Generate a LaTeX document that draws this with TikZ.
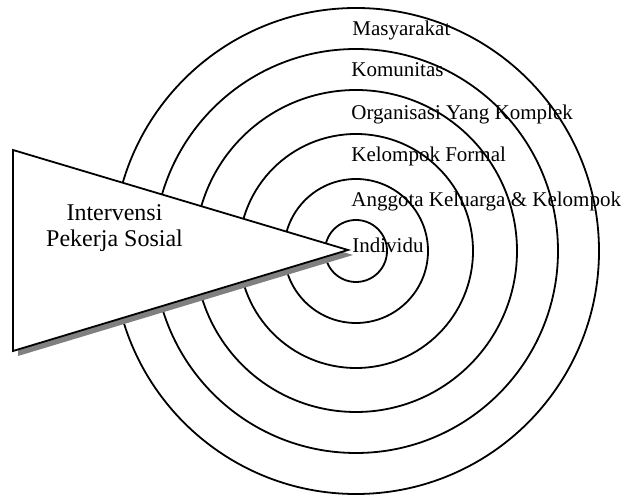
\documentclass[tikz,border=0pt]{standalone}
\usepackage{fontspec}
\setmainfont{Liberation Serif}
\usetikzlibrary{positioning}
\tikzset{
    ring/.style={line width=0.9pt}, % the concentric rings
    level/.style={anchor=base west, inner sep=0pt, font=\fontsize{10.5}{12}\selectfont},
    wedge/.style={draw, line width=0.9pt, fill=white},
}
\def\wedgepath{(13,347) -- (348,247) -- (13,146) -- cycle}

\begin{document}
\begin{tikzpicture}[x=0.5pt,y=0.5pt]
    \useasboundingbox (0,0) rectangle (626,497);
    \coordinate (ctr) at (356,246);
    \foreach \r in {31,72,117,161,202,243}
        \draw[ring] (ctr) circle (\r);
    \node[level] (masyarakat) at (352,461) {Masyarakat};
    \node[level] (komunitas) at (351,420) {Komunitas};
    \node[level] (organisasi) at (351,377) {Organisasi Yang Komplek};
    \node[level] (formal) at (351,335) {Kelompok Formal};
    \node[level] (keluarga) at (351,290) {Anggota Keluarga \& Kelompok};
    \node[level] (individu) at (352,244) {Individu};
    % wedge with its shadow
    \fill[black!50, shift={(5,-5)}] \wedgepath;
    \draw[wedge] \wedgepath;
    \node[anchor=base, align=center, inner sep=0pt,
          font=\fontsize{12}{13}\selectfont] (intervensi) at (114.5,250)
          {Intervensi\\Pekerja Sosial};
\end{tikzpicture}
\end{document}
